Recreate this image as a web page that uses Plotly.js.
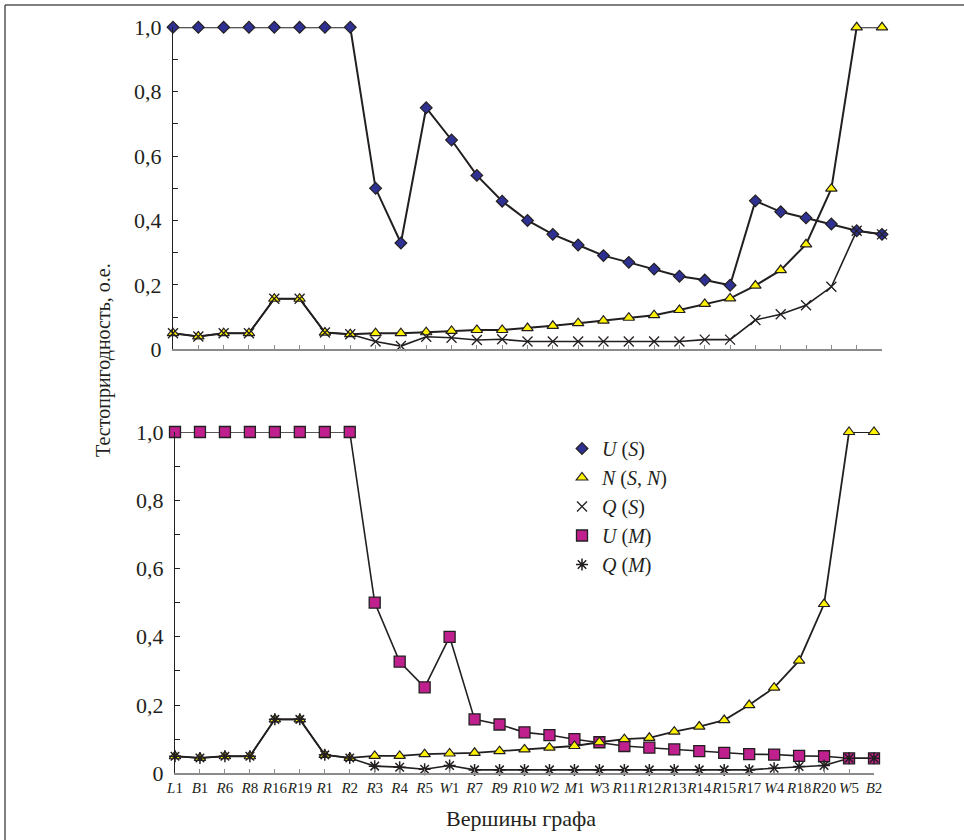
<!DOCTYPE html>
<html>
<head>
<meta charset="utf-8">
<script src="https://cdn.plot.ly/plotly-3.0.1.min.js"></script>
<style>
  html, body { margin: 0; padding: 0; background: #ffffff; }
  #chart { width: 964px; height: 840px; }
</style>
</head>
<body>
<div id="chart"></div>
<script>
// ---- data ----
const categories = ['L1','B1','R6','R8','R16','R19','R1','R2','R3','R4','R5','W1','R7','R9','R10','W2','M1','W3','R11','R12','R13','R14','R15','R17','W4','R18','R20','W5','B2'];

// top panel
const U_S = [1,1,1,1,1,1,1,1,0.50,0.33,0.75,0.65,0.54,0.46,0.40,0.357,0.324,0.291,0.27,0.249,0.227,0.215,0.199,0.461,0.427,0.408,0.389,0.368,0.357];
const N_top = [0.05,0.04,0.05,0.05,0.157,0.157,0.052,0.047,0.05,0.05,0.053,0.057,0.06,0.06,0.066,0.073,0.081,0.089,0.098,0.106,0.122,0.141,0.158,0.198,0.246,0.326,0.499,1,1];
const Q_S = [0.05,0.04,0.05,0.05,0.157,0.157,0.052,0.047,0.024,0.01,0.039,0.036,0.029,0.031,0.024,0.024,0.024,0.024,0.024,0.024,0.024,0.03,0.03,0.091,0.109,0.137,0.194,0.368,0.357];

// bottom panel
const U_M = [1,1,1,1,1,1,1,1,0.50,0.327,0.252,0.40,0.158,0.143,0.12,0.112,0.10,0.091,0.08,0.075,0.07,0.065,0.06,0.056,0.055,0.051,0.05,0.044,0.044];
const N_bot = [0.05,0.045,0.05,0.05,0.158,0.158,0.054,0.045,0.051,0.051,0.056,0.058,0.06,0.065,0.07,0.075,0.08,0.091,0.1,0.104,0.122,0.137,0.156,0.2,0.251,0.33,0.496,1,1];
const Q_M = [0.05,0.045,0.05,0.05,0.158,0.158,0.054,0.045,0.021,0.018,0.012,0.023,0.01,0.01,0.01,0.01,0.01,0.01,0.01,0.01,0.01,0.01,0.01,0.01,0.015,0.02,0.023,0.044,0.044];

const seriesNames = ['<i>U</i> (<i>S</i>)', '<i>N</i> (<i>S</i>, <i>N</i>)', '<i>Q</i> (<i>S</i>)', '<i>U</i> (<i>M</i>)', '<i>Q</i> (<i>M</i>)'];
const yTickVals = [0,0.1,0.2,0.3,0.4,0.5,0.6,0.7,0.8,0.9,1.0];
const yTickText = ['0','','0,2','','0,4','','0,6','','0,8','','1,0'];
const xTitle = 'Вершины графа';
const yTitle = 'Тестопригодность, о.е.';

// ---- styling ----
const INK = '#231f20';
const SERIF = '"Liberation Serif", serif';
const tickText = categories.map(c => c.replace(/^([A-Z])/, '<i>$1</i>'));

const W = 964, H = 840;
const px = v => v / W;
const py = v => (H - v) / H;

const mk = {
  US: {symbol: 'diamond', size: 9, color: '#2e3192', line: {color: INK, width: 1.2}},
  N:  {symbol: 'triangle-up', size: 10, color: '#fff200', line: {color: INK, width: 1.2}},
  QS: {symbol: 'x-thin-open', size: 10, color: INK, line: {color: INK, width: 1.3}},
  UM: {symbol: 'square', size: 11, color: '#c0208e', line: {color: INK, width: 1.3}},
  QM: {symbol: 'asterisk-open', size: 10, color: INK, line: {color: INK, width: 1.5}}
};

function lineTrace(y, xa, ya, w) {
  return {x: categories, y: y, xaxis: xa, yaxis: ya, type: 'scatter', mode: 'lines',
          line: {color: INK, width: w}, showlegend: false, hoverinfo: 'skip', cliponaxis: false};
}
function markTrace(y, xa, ya, m, name, show) {
  return {x: categories, y: y, xaxis: xa, yaxis: ya, type: 'scatter', mode: 'markers',
          marker: m, name: name, showlegend: show, cliponaxis: false};
}

const data = [
  lineTrace(U_S, 'x', 'y', 2),
  lineTrace(N_top, 'x', 'y', 2),
  lineTrace(Q_S, 'x', 'y', 1.6),
  lineTrace(U_M, 'x2', 'y2', 1.6),
  lineTrace(N_bot, 'x2', 'y2', 1.8),
  lineTrace(Q_M, 'x2', 'y2', 1.6),
  markTrace(U_S, 'x', 'y', mk.US, seriesNames[0], true),
  markTrace(N_top, 'x', 'y', mk.N, seriesNames[1], true),
  markTrace(Q_S, 'x', 'y', mk.QS, seriesNames[2], true),
  markTrace(U_M, 'x2', 'y2', mk.UM, seriesNames[3], true),
  markTrace(N_bot, 'x2', 'y2', mk.N, seriesNames[1], false),
  markTrace(Q_M, 'x2', 'y2', mk.QM, seriesNames[4], true)
];

const xBase = {
  type: 'category', range: [0, categories.length - 1], showgrid: false, zeroline: false,
  showline: true, linecolor: '#8c8c8c', linewidth: 1.5,
  ticks: 'inside', ticklen: 4, tickcolor: '#8c8c8c', tickwidth: 1,
  tickmode: 'array', tickvals: categories, ticktext: tickText, tickangle: 0,
  tickfont: {family: SERIF, size: 15, color: INK}, fixedrange: true
};
const yBase = {
  range: [0, 1], showgrid: false, zeroline: false,
  showline: true, linecolor: INK, linewidth: 1.2,
  ticks: 'inside', ticklen: 5, tickcolor: INK, tickwidth: 1,
  tickmode: 'array', tickvals: yTickVals, ticktext: yTickText,
  tickfont: {family: SERIF, size: 22, color: INK}, ticklabelstandoff: 6, fixedrange: true
};

const layout = {
  width: W, height: H,
  margin: {l: 0, r: 0, t: 0, b: 0},
  paper_bgcolor: '#ffffff', plot_bgcolor: 'rgba(0,0,0,0)',
  font: {family: SERIF, color: INK},
  showlegend: true,
  xaxis: Object.assign({}, xBase, {domain: [px(173), px(882)], anchor: 'y', showticklabels: false}),
  yaxis: Object.assign({}, yBase, {domain: [py(349.3), py(27.3)], anchor: 'x'}),
  xaxis2: Object.assign({}, xBase, {domain: [px(175), px(874)], anchor: 'y2'}),
  yaxis2: Object.assign({}, yBase, {domain: [py(773.3), py(432)], anchor: 'x2'}),
  legend: {
    x: px(562), y: py(429), xanchor: 'left', yanchor: 'top',
    bgcolor: 'rgba(0,0,0,0)', borderwidth: 0,
    font: {family: SERIF, size: 20, color: INK},
    traceorder: 'normal', itemwidth: 30
  },
  annotations: [
    {text: yTitle, x: px(103), y: py(360), xref: 'paper', yref: 'paper', showarrow: false,
     textangle: -90, font: {family: SERIF, size: 20, color: INK}, xanchor: 'center', yanchor: 'middle'},
    {text: xTitle, x: px(521), y: py(818), xref: 'paper', yref: 'paper', showarrow: false,
     font: {family: SERIF, size: 22, color: INK}, xanchor: 'center', yanchor: 'middle'}
  ],
  shapes: [
    {type: 'line', xref: 'paper', yref: 'paper', x0: px(5), x1: 1.01, y0: py(5), y1: py(5), line: {color: '#555555', width: 1.5}},
    {type: 'line', xref: 'paper', yref: 'paper', x0: px(5), x1: px(5), y0: py(5), y1: -0.01, line: {color: '#555555', width: 1.5}}
  ]
};

Plotly.newPlot('chart', data, layout, {staticPlot: true, displayModeBar: false});
</script>
</body>
</html>
